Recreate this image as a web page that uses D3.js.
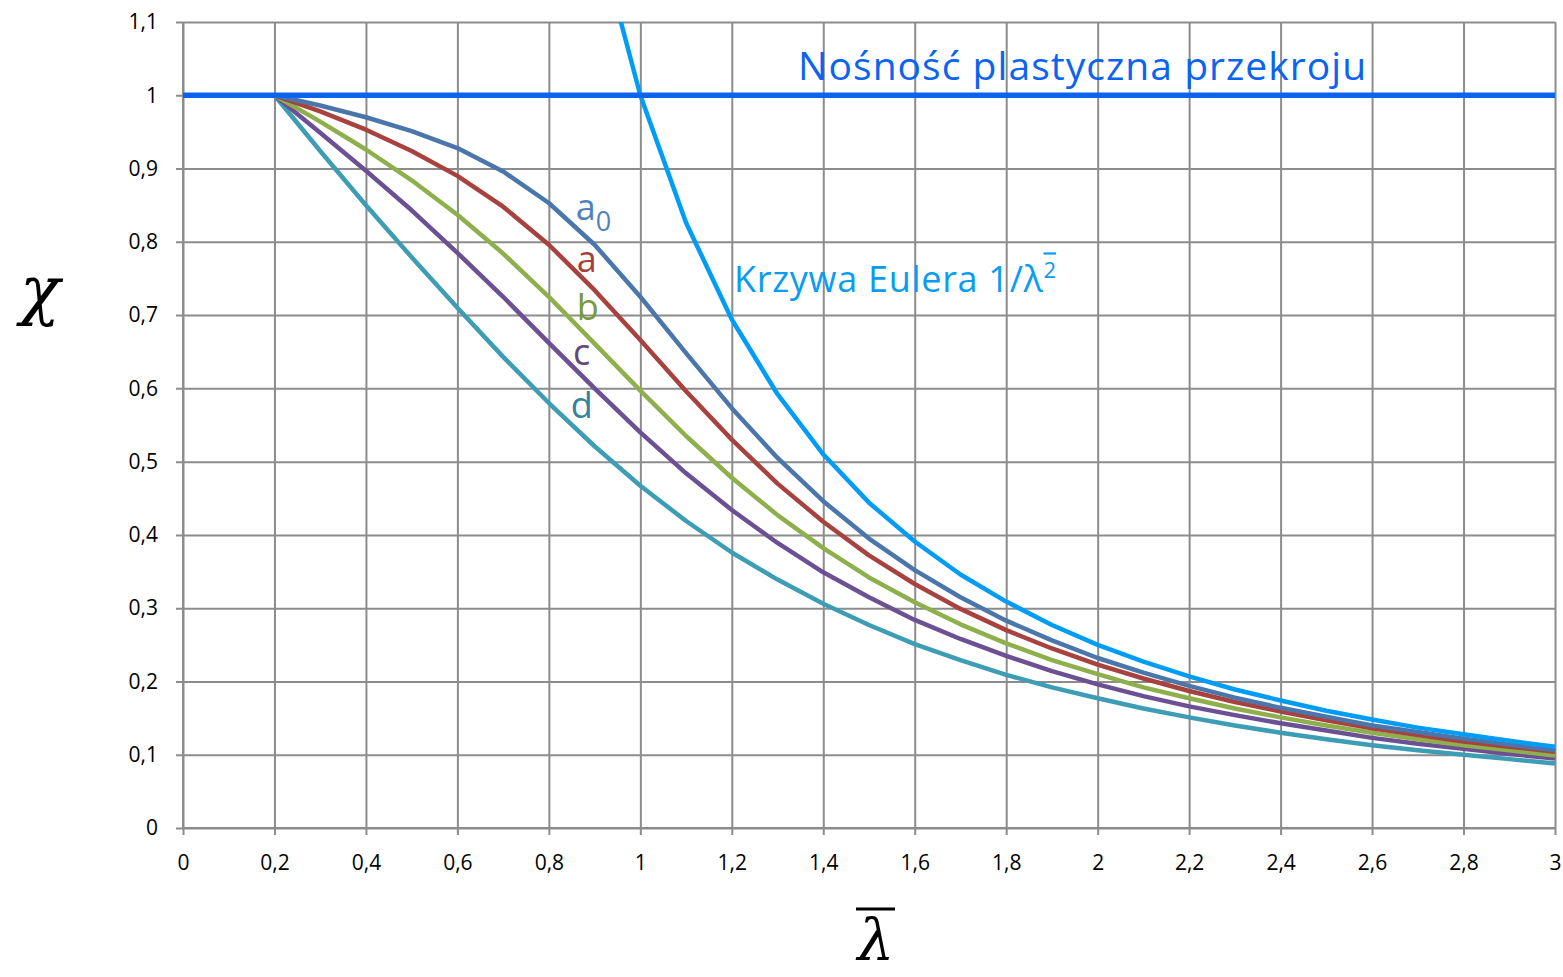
<!DOCTYPE html>
<html>
  <head>
    <meta charset="utf-8">
    <title>Krzywe wyboczeniowe</title>
    <script src="https://cdnjs.cloudflare.com/ajax/libs/d3/7.8.5/d3.min.js"></script>
    <style>
      body { margin: 0; background: #fff; }
      .grid line { stroke: #8c8c8c; stroke-width: 2px; }
    </style>
  </head>
  <body>
    <svg id="chart" width="1563" height="977"></svg>
    <script>
      // smukłość względna
      var lambda = [0.2, 0.3, 0.4, 0.5, 0.6, 0.7, 0.8, 0.9, 1.0, 1.1, 1.2, 1.3, 1.4, 1.5, 1.6,
                    1.7, 1.8, 1.9, 2.0, 2.1, 2.2, 2.3, 2.4, 2.5, 2.6, 2.7, 2.8, 2.9, 3.0];

      // współczynniki wyboczeniowe
      var chiA0 = [1, 0.986, 0.970, 0.951, 0.928, 0.896, 0.853, 0.796, 0.725, 0.648, 0.573, 0.505, 0.446, 0.395, 0.352,
                   0.315, 0.283, 0.256, 0.232, 0.212, 0.194, 0.178, 0.164, 0.152, 0.140, 0.131, 0.122, 0.114, 0.106];
      var chiA  = [1, 0.978, 0.953, 0.924, 0.890, 0.848, 0.796, 0.734, 0.666, 0.596, 0.530, 0.470, 0.418, 0.372, 0.333,
                   0.299, 0.270, 0.245, 0.223, 0.204, 0.187, 0.172, 0.159, 0.147, 0.136, 0.127, 0.118, 0.111, 0.104];
      var chiB  = [1, 0.964, 0.926, 0.884, 0.837, 0.784, 0.725, 0.661, 0.597, 0.535, 0.478, 0.427, 0.382, 0.342, 0.308,
                   0.278, 0.252, 0.229, 0.210, 0.192, 0.177, 0.163, 0.151, 0.140, 0.130, 0.121, 0.113, 0.106, 0.099];
      var chiC  = [1, 0.949, 0.897, 0.843, 0.785, 0.725, 0.662, 0.600, 0.540, 0.484, 0.434, 0.389, 0.349, 0.315, 0.284,
                   0.258, 0.235, 0.214, 0.196, 0.180, 0.166, 0.154, 0.143, 0.133, 0.123, 0.115, 0.108, 0.101, 0.095];
      var chiD  = [1, 0.924, 0.850, 0.779, 0.710, 0.643, 0.580, 0.521, 0.467, 0.419, 0.376, 0.339, 0.306, 0.277, 0.251,
                   0.229, 0.209, 0.192, 0.177, 0.163, 0.151, 0.140, 0.130, 0.121, 0.113, 0.106, 0.100, 0.094, 0.088];

      // krzywa Eulera 1/λ²
      var lambdaEuler = [0.9, 1.0, 1.1, 1.2, 1.3, 1.4, 1.5, 1.6, 1.7, 1.8, 1.9, 2.0,
                         2.1, 2.2, 2.3, 2.4, 2.5, 2.6, 2.7, 2.8, 2.9, 3.0];
      var chiEuler = [1.235, 1.0, 0.826, 0.694, 0.592, 0.510, 0.444, 0.391, 0.346, 0.309, 0.277, 0.250,
                      0.227, 0.207, 0.189, 0.174, 0.160, 0.148, 0.137, 0.128, 0.119, 0.111];

      // nośność plastyczna
      var lambdaPlastic = [0, 3];
      var chiPlastic = [1, 1];

      var xTicks = [0, 0.2, 0.4, 0.6, 0.8, 1, 1.2, 1.4, 1.6, 1.8, 2, 2.2, 2.4, 2.6, 2.8, 3];
      var yTicks = [0, 0.1, 0.2, 0.3, 0.4, 0.5, 0.6, 0.7, 0.8, 0.9, 1, 1.1];

      var curves = [
        { name: "a0", values: chiA0, color: "#4a76ac", text: "#4f81bd", lx: 0.859, ly: 0.830 },
        { name: "a",  values: chiA,  color: "#a8423f", text: "#a5403d", lx: 0.861, ly: 0.759 },
        { name: "b",  values: chiB,  color: "#8db04c", text: "#7a9a3a", lx: 0.861, ly: 0.693 },
        { name: "c",  values: chiC,  color: "#6c5094", text: "#5f497a", lx: 0.853, ly: 0.632 },
        { name: "d",  values: chiD,  color: "#3c9db5", text: "#31849b", lx: 0.848, ly: 0.560 }
      ];

      var margin = { top: 22, right: 8, bottom: 149, left: 183 };
      var width = 1555 - margin.left;
      var height = 828 - margin.top;

      var x = d3.scaleLinear().domain([0, 3]).range([0, width]);
      var y = d3.scaleLinear().domain([0, 1.1]).range([height, 0]);

      var fmt = function(d) { return String(d).replace(".", ","); };

      var svg = d3.select("#chart")
        .append("g")
        .attr("transform", "translate(" + margin.left + "," + margin.top + ")");

      // siatka + osie
      svg.append("g")
        .attr("class", "grid")
        .attr("transform", "translate(0," + height + ")")
        .call(d3.axisBottom(x).tickValues(xTicks).tickFormat(fmt).tickSizeOuter(0).tickPadding(21))
        .call(function(g) {
          g.selectAll(".tick line").attr("y2", 7).attr("y1", -height);
          g.select(".domain").remove();
          g.attr("font-size", 21).attr("font-family", "'Open Sans', sans-serif");
          g.selectAll(".tick text").attr("fill", "#000");
        });

      svg.append("g")
        .attr("class", "grid")
        .call(d3.axisLeft(y).tickValues(yTicks).tickFormat(fmt).tickSizeOuter(0).tickPadding(19))
        .call(function(g) {
          g.selectAll(".tick line").attr("x1", -7).attr("x2", width);
          g.select(".domain").remove();
          g.attr("font-size", 21).attr("font-family", "'Open Sans', sans-serif");
          g.selectAll(".tick text").attr("fill", "#000");
        });

      svg.append("line")
        .attr("x1", 0).attr("x2", width).attr("y1", height).attr("y2", height)
        .attr("stroke", "#8c8c8c").attr("stroke-width", 2);
      svg.append("line")
        .attr("x1", 0).attr("x2", 0).attr("y1", 0).attr("y2", height)
        .attr("stroke", "#8c8c8c").attr("stroke-width", 2);

      svg.append("defs").append("clipPath").attr("id", "clip")
        .append("rect").attr("x", -5).attr("y", 0).attr("width", width + 10).attr("height", height);

      var line = d3.line()
        .x(function(d) { return x(d[0]); })
        .y(function(d) { return y(d[1]); });

      var plot = svg.append("g").attr("clip-path", "url(#clip)");

      // krzywe wyboczeniowe
      curves.slice().reverse().forEach(function(c) {
        plot.append("path")
          .datum(d3.zip(lambda, c.values))
          .attr("fill", "none")
          .attr("stroke", c.color)
          .attr("stroke-width", 4.5)
          .attr("stroke-linejoin", "round")
          .attr("d", line);
      });

      plot.append("path")
        .datum(d3.zip(lambdaEuler, chiEuler))
        .attr("fill", "none")
        .attr("stroke", "#009cf5")
        .attr("stroke-width", 4.5)
        .attr("stroke-linejoin", "round")
        .attr("d", line);

      plot.append("path")
        .datum(d3.zip(lambdaPlastic, chiPlastic))
        .attr("fill", "none")
        .attr("stroke", "#0a64f0")
        .attr("stroke-width", 5.5)
        .attr("d", line);

      // etykiety krzywych
      curves.forEach(function(c) {
        var t = svg.append("text")
          .attr("x", x(c.lx))
          .attr("y", y(c.ly))
          .attr("fill", c.text)
          .style("font-family", "'Open Sans', sans-serif")
          .style("font-size", "36px")
          .text(c.name.charAt(0));
        if (c.name.length > 1) {
          t.append("tspan").attr("dy", 11).style("font-size", "27px").text(c.name.slice(1));
        }
      });

      var eu = svg.append("text")
        .attr("x", x(1.205))
        .attr("y", y(0.731))
        .attr("fill", "#0a9cf0")
        .style("font-family", "'Open Sans', sans-serif")
        .style("font-size", "36px")
        .attr("textLength", 322)
        .text("Krzywa Eulera 1/λ");
      eu.append("tspan").attr("dy", -14).style("font-size", "22px")
        .style("text-decoration", "overline").text("2");

      svg.append("text")
        .attr("x", x(1.345))
        .attr("y", y(1.021))
        .attr("fill", "#0a64f0")
        .style("font-family", "'Open Sans', sans-serif")
        .style("font-size", "39px")
        .attr("textLength", 568)
        .text("Nośność plastyczna przekroju");

      // opisy osi
      d3.select("#chart").append("text")
        .attr("x", 40).attr("y", 312)
        .attr("text-anchor", "middle")
        .style("font-family", "'DejaVu Serif', serif")
        .style("font-style", "italic")
        .style("font-size", "66px")
        .text("χ");

      var ax = d3.select("#chart").append("g");
      ax.append("text")
        .attr("x", 876).attr("y", 960)
        .attr("text-anchor", "middle")
        .style("font-family", "'DejaVu Serif', serif")
        .style("font-style", "italic")
        .style("font-size", "58px")
        .text("λ");
      ax.append("line")
        .attr("x1", 856).attr("x2", 895).attr("y1", 909).attr("y2", 909)
        .attr("stroke", "#000").attr("stroke-width", 3);
    </script>
  </body>
</html>
